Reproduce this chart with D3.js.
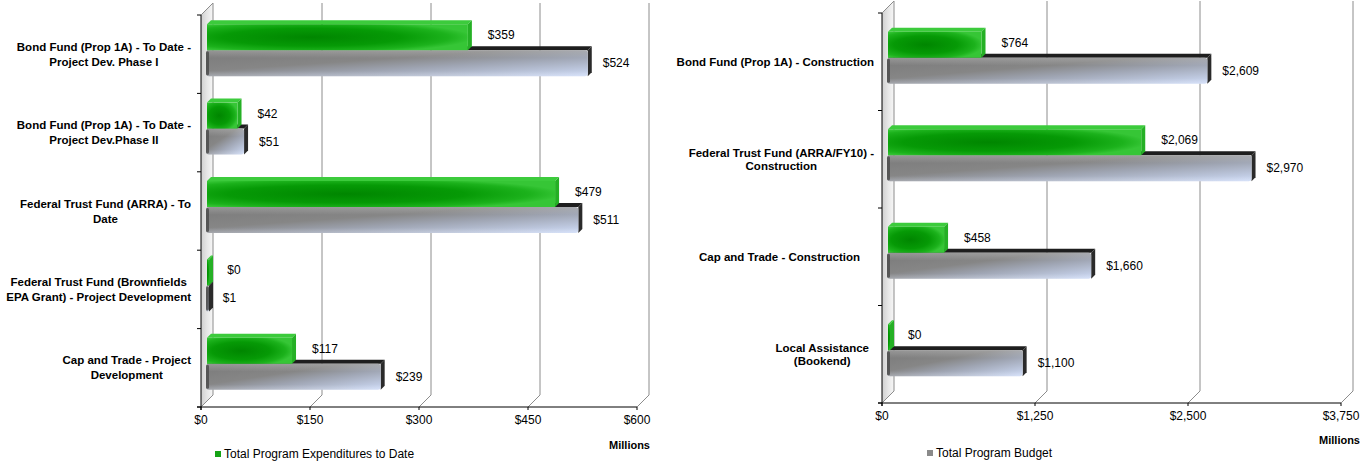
<!DOCTYPE html>
<html>
<head>
<meta charset="utf-8">
<script src="https://cdn.jsdelivr.net/npm/d3@7"></script>
<style>
  html, body { margin: 0; padding: 0; background: #fff; }
  svg { display: block; font-family: "Liberation Sans", Arial, sans-serif; }
</style>
</head>
<body>
<svg id="chart" width="1369" height="461"></svg>
<script>
// ---------------- data ----------------
const leftCategories = [
  "Bond Fund (Prop 1A) - To Date -\nProject Dev. Phase I",
  "Bond Fund (Prop 1A) - To Date -\nProject Dev.Phase II",
  "Federal Trust Fund (ARRA) - To\nDate",
  "Federal Trust Fund (Brownfields\nEPA Grant) - Project Development",
  "Cap and Trade - Project\nDevelopment"
];
const leftExpenditures = [359, 42, 479, 0.3, 117];
const leftBudget = [524, 51, 511, 1, 239];
const leftTicks = [0, 150, 300, 450, 600];

const rightCategories = [
  "Bond Fund (Prop 1A) - Construction",
  "Federal Trust Fund (ARRA/FY10) -\nConstruction",
  "Cap and Trade - Construction",
  "Local Assistance\n(Bookend)"
];
const rightExpenditures = [764, 2069, 458, 0];
const rightBudget = [2609, 2970, 1660, 1100];
const rightTicks = [0, 1250, 2500, 3750];

const axisTitle = "Millions";
const legendExpenditures = "Total Program Expenditures to Date";
const legendBudget = "Total Program Budget";

// ---------------- drawing ----------------
const svg = d3.select("#chart");
const defs = svg.append("defs");
const money = v => "$" + d3.format(",.0f")(v);

// gradients
const gGreen = defs.append("radialGradient").attr("id", "gGreen")
  .attr("cx", 0.4).attr("cy", 0.5).attr("r", 0.62).attr("fx", 0.4).attr("fy", 0.5);
[[0, "#008600"], [0.55, "#069a06"], [0.85, "#1cb21c"], [1, "#36c636"]].forEach(([o, c]) =>
  gGreen.append("stop").attr("offset", o).attr("stop-color", c));

const gGray = defs.append("linearGradient").attr("id", "gGray")
  .attr("x1", 0).attr("y1", 0).attr("x2", 1).attr("y2", 1);
[[0, "#7a7a7a"], [0.4, "#868686"], [0.62, "#9fa5b3"], [1, "#cfdcf8"]].forEach(([o, c]) =>
  gGray.append("stop").attr("offset", o).attr("stop-color", c));

const gGrayTopHi = defs.append("linearGradient").attr("id", "gGrayHi")
  .attr("x1", 0).attr("y1", 0).attr("x2", 0).attr("y2", 1);
[[0, "#ffffff", 0.22], [0.3, "#ffffff", 0.0], [0.8, "#ffffff", 0], [1, "#ffffff", 0.18]].forEach(([o, c, a]) =>
  gGrayTopHi.append("stop").attr("offset", o).attr("stop-color", c).attr("stop-opacity", a));

const gWall = defs.append("linearGradient").attr("id", "gWall")
  .attr("x1", 0).attr("y1", 0).attr("x2", 1).attr("y2", 0);
[[0, "#cfcfcf"], [0.5, "#e6e6e6"], [1, "#f7f7f7"]].forEach(([o, c]) =>
  gWall.append("stop").attr("offset", o).attr("stop-color", c));

function drawChart(cfg) {
  const g = svg.append("g");
  const n = cfg.categories.length;
  const DX = 12, DY = -12, D = 4;
  const max = cfg.ticks[cfg.ticks.length - 1];

  const xFront = d3.scaleLinear().domain([0, max]).range([cfg.fx0, cfg.fx1]);
  const xBack = d3.scaleLinear().domain([0, max]).range([cfg.fx0 + DX, cfg.fx1 + DX]);
  const xBar = d3.scaleLinear().domain([0, max]).range([cfg.fx0 + 6, cfg.fx1 + 6]);
  const yBand = d3.scaleBand().domain(d3.range(n)).range([cfg.fy0, cfg.fy1]).padding(0);
  const step = yBand.bandwidth();
  const groupH = 52;
  const ySeries = d3.scaleBand().domain(["exp", "bud"]).range([0, groupH]);

  // left wall
  g.append("path")
    .attr("d", `M${cfg.fx0},${cfg.fy0}L${cfg.fx0 + DX},${cfg.fy0 + DY}L${cfg.fx0 + DX},${cfg.fy1 + DY}L${cfg.fx0},${cfg.fy1}Z`)
    .attr("fill", "url(#gWall)");

  // gridlines on back wall + floor diagonals
  cfg.ticks.forEach(t => {
    const bx = xBack(t), fx = xFront(t);
    g.append("path")
      .attr("d", `M${bx},${cfg.fy0 + DY}L${bx},${cfg.fy1 + DY}L${fx},${cfg.fy1}`)
      .attr("fill", "none").attr("stroke", "#8c8c8c").attr("stroke-width", 1);
  });
  g.append("path")
    .attr("d", `M${cfg.fx0},${cfg.fy0}L${xBack(0)},${cfg.fy0 + DY}`)
    .attr("fill", "none").attr("stroke", "#8c8c8c");

  // axes (front)
  g.append("line").attr("x1", cfg.fx0).attr("x2", cfg.fx0).attr("y1", cfg.fy0).attr("y2", cfg.fy1 + 3)
    .attr("stroke", "#000");
  g.append("line").attr("x1", cfg.fx0 - 4).attr("x2", cfg.fx1).attr("y1", cfg.fy1).attr("y2", cfg.fy1)
    .attr("stroke", "#000");
  d3.range(n + 1).forEach(i => {
    const y = cfg.fy0 + i * step;
    g.append("line").attr("x1", cfg.fx0 - 4).attr("x2", cfg.fx0).attr("y1", y).attr("y2", y).attr("stroke", "#000");
  });
  cfg.ticks.forEach(t => {
    g.append("line").attr("x1", xFront(t)).attr("x2", xFront(t)).attr("y1", cfg.fy1).attr("y2", cfg.fy1 + 3)
      .attr("stroke", "#000");
    g.append("text").attr("x", xFront(t)).attr("y", cfg.fy1 + 17)
      .attr("text-anchor", "middle").attr("font-size", 12).attr("fill", "#000")
      .text(money(t));
  });

  // bars
  function bar(x1, y, h, kind) {
    const x0 = xBar(0);
    const xe = Math.max(x1, x0 + 2);
    const bg = g.append("g");
    if (kind === "bud") {
      bg.append("path").attr("d", `M${x0},${y}L${x0 + D},${y - D}L${xe + D},${y - D}L${xe},${y}Z`).attr("fill", "#1e1e1e");
      bg.append("path").attr("d", `M${xe},${y}L${xe + D},${y - D}L${xe + D},${y + h - D}L${xe},${y + h}Z`).attr("fill", "#2a2a2a");
      bg.append("rect").attr("x", x0 - 1).attr("y", y).attr("width", xe - x0 + 1).attr("height", h)
        .attr("rx", 3).attr("fill", "url(#gGray)");
      bg.append("rect").attr("x", x0 - 1).attr("y", y).attr("width", xe - x0 + 1).attr("height", h)
        .attr("rx", 3).attr("fill", "url(#gGrayHi)");
      bg.append("rect").attr("x", x0 - 1).attr("y", y + 1).attr("width", 3).attr("height", h - 2)
        .attr("rx", 1.5).attr("fill", "#4a4a4a").attr("opacity", 0.8);
    } else {
      bg.append("path").attr("d", `M${x0},${y}L${x0 + D},${y - D}L${xe + D},${y - D}L${xe},${y}Z`).attr("fill", "#3ccb3c");
      bg.append("path").attr("d", `M${xe},${y}L${xe + D},${y - D}L${xe + D},${y + h - D}L${xe},${y + h}Z`).attr("fill", "#25b025");
      bg.append("rect").attr("x", x0).attr("y", y).attr("width", xe - x0).attr("height", h)
        .attr("fill", "url(#gGreen)");
    }
  }

  const bh = ySeries.bandwidth();
  cfg.categories.forEach((cat, i) => {
    const gTop = yBand(i) + (step - groupH) / 2 - 4;
    const yb = gTop + ySeries("bud"), ye = gTop + ySeries("exp");
    bar(xBar(cfg.budget[i]), yb, bh, "bud");
    bar(xBar(cfg.expenditures[i]), ye, bh, "exp");
    g.append("text").attr("x", xBar(cfg.budget[i]) + 15).attr("y", yb + bh / 2 + 4)
      .attr("font-size", 12).attr("fill", "#000").text(money(cfg.budget[i]));
    g.append("text").attr("x", xBar(cfg.expenditures[i]) + 20).attr("y", ye + bh / 2 + 2)
      .attr("font-size", 12).attr("fill", "#000").text(money(cfg.expenditures[i]));

    // category label: lines centered, block right-aligned
    const lines = cat.split("\n");
    const cy = yBand(i) + step / 2;
    const lg = g.append("g");
    const texts = lines.map((ln, k) => lg.append("text")
      .attr("y", cy + (k - (lines.length - 1) / 2) * cfg.lineH + 4)
      .attr("font-size", 11.5).attr("font-weight", "bold").attr("text-anchor", "middle")
      .attr("fill", "#000").text(ln));
    const wmax = d3.max(texts, t => t.node().getComputedTextLength());
    const right = Array.isArray(cfg.labelRight) ? cfg.labelRight[i] : cfg.labelRight;
    texts.forEach(t => t.attr("x", right - wmax / 2));
  });

  // axis title
  g.append("text").attr("x", cfg.titleX).attr("y", cfg.titleY).attr("text-anchor", "end")
    .attr("font-size", 11).attr("font-weight", "bold").text(axisTitle);

  // legend
  g.append("rect").attr("x", cfg.legX).attr("y", cfg.legY - 3).attr("width", 6).attr("height", 6)
    .attr("fill", cfg.legColor);
  g.append("text").attr("x", cfg.legX + 9).attr("y", cfg.legY + 4).attr("font-size", 12)
    .text(cfg.legText);
}

drawChart({
  categories: leftCategories, expenditures: leftExpenditures, budget: leftBudget, ticks: leftTicks,
  fx0: 201, fx1: 637, fy0: 15, fy1: 407, labelRight: 191, lineH: 15,
  titleX: 650, titleY: 449, legX: 215, legY: 454, legColor: "#16a316", legText: legendExpenditures
});
drawChart({
  categories: rightCategories, expenditures: rightExpenditures, budget: rightBudget, ticks: rightTicks,
  fx0: 882, fx1: 1341, fy0: 13, fy1: 403, labelRight: [874, 874, 860, 869], lineH: 13,
  titleX: 1360, titleY: 444, legX: 927, legY: 453, legColor: "#8a8a8a", legText: legendBudget
});
</script>
</body>
</html>
